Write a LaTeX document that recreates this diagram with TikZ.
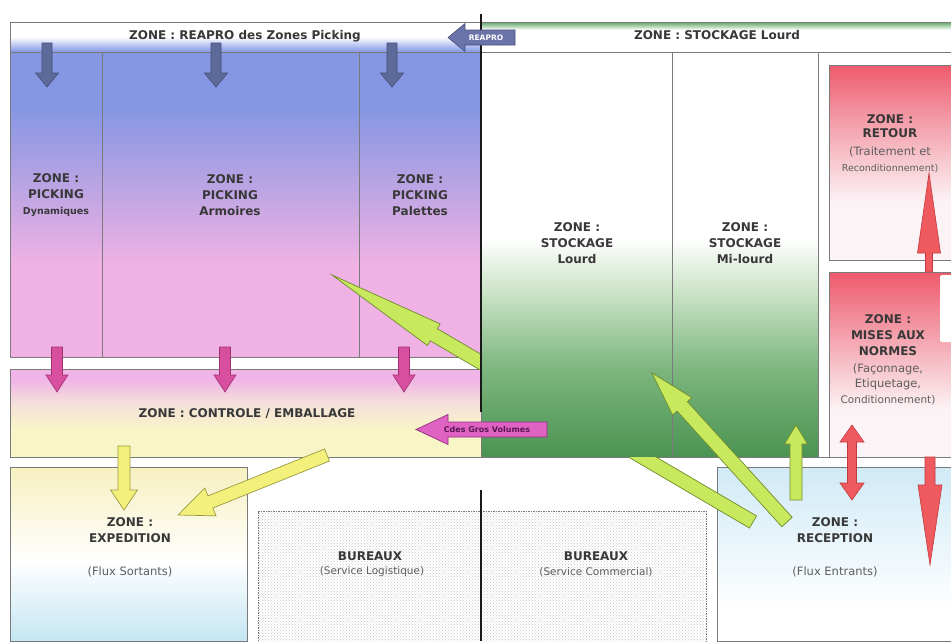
\documentclass[tikz,border=0pt]{standalone}
\usepackage{fontspec}
\setmainfont{DejaVu Sans}
\usetikzlibrary{calc,patterns}
\definecolor{framegray}{HTML}{7A7A7A}
\definecolor{txtdark}{HTML}{383838}
\definecolor{txtgray}{HTML}{5E5E5E}
\definecolor{pkblue}{HTML}{8596E3}
\definecolor{pkpink}{HTML}{F0B2E4}
\definecolor{bandblue}{HTML}{8A9DE8}
\definecolor{bandgreen}{HTML}{5EA563}
\definecolor{stdark}{HTML}{4B9352}
\definecolor{stmid}{HTML}{7DB67F}
\definecolor{stlight}{HTML}{C8E2C4}
\definecolor{ctpink}{HTML}{F0B4E6}
\definecolor{ctmid}{HTML}{F5E2DA}
\definecolor{ctyel}{HTML}{F8F5C6}
\definecolor{exyel}{HTML}{F7F0C0}
\definecolor{excyan}{HTML}{C4E6F2}
\definecolor{rcblue}{HTML}{D0EAF6}
\definecolor{rtred}{HTML}{EE5A6B}
\definecolor{rtpink}{HTML}{F4A0AC}
\definecolor{rtwhite}{HTML}{FBF3F5}
\definecolor{arrgray}{HTML}{5D6B9A}
\definecolor{arrgrayd}{HTML}{454F78}
\definecolor{arrpink}{HTML}{D84FA0}
\definecolor{arrpinkd}{HTML}{A03070}
\definecolor{arrlime}{HTML}{C8E85E}
\definecolor{arrlimed}{HTML}{6E8C2A}
\definecolor{arryel}{HTML}{F4F07C}
\definecolor{arryeld}{HTML}{9A9A40}
\definecolor{arrred}{HTML}{EF5A5E}
\definecolor{arrredd}{HTML}{C03A40}
\definecolor{reaproarr}{HTML}{6B74A8}
\definecolor{reaproarrd}{HTML}{4A5080}
\definecolor{cdesarr}{HTML}{E063C4}
\definecolor{cdesarrd}{HTML}{903080}
\definecolor{cdestxt}{HTML}{5A1850}
\pgfdeclareverticalshading{pickshade}{100bp}{color(0bp)=(pkpink); color(40bp)=(pkpink); color(66bp)=(pkblue); color(100bp)=(pkblue)}
\pgfdeclareverticalshading{reaproband}{100bp}{color(0bp)=(bandblue); color(27bp)=(bandblue); color(50bp)=(white); color(100bp)=(white)}
\pgfdeclareverticalshading{stockband}{100bp}{color(0bp)=(white); color(62bp)=(white); color(75bp)=(bandgreen); color(100bp)=(bandgreen)}
\pgfdeclareverticalshading{stockshade}{100bp}{color(0bp)=(stdark); color(25bp)=(stdark); color(36bp)=(stmid); color(45bp)=(stlight); color(52bp)=(white); color(100bp)=(white)}
\pgfdeclareverticalshading{ctshade}{100bp}{color(0bp)=(ctyel); color(40bp)=(ctyel); color(55bp)=(ctmid); color(69bp)=(ctpink); color(100bp)=(ctpink)}
\pgfdeclareverticalshading{exshade}{100bp}{color(0bp)=(excyan); color(25bp)=(excyan); color(48bp)=(white); color(75bp)=(exyel); color(100bp)=(exyel)}
\pgfdeclareverticalshading{rcshade}{100bp}{color(0bp)=(white); color(34bp)=(white); color(75bp)=(rcblue); color(100bp)=(rcblue)}
\pgfdeclareverticalshading{rtshade}{100bp}{color(0bp)=(rtwhite); color(40bp)=(rtwhite); color(60bp)=(rtpink); color(75bp)=(rtred); color(100bp)=(rtred)}
\pgfdeclareverticalshading{mnshade}{100bp}{color(0bp)=(rtwhite); color(38bp)=(rtwhite); color(58bp)=(rtpink); color(75bp)=(rtred); color(100bp)=(rtred)}
% block arrow: style, from, to, shaft half width, head half width, head length
\newcommand{\blockarrow}[6]{%
  \path ($(#3)!#6pt!(#2)$) coordinate (hb);
  \draw[#1] ($(#2)!#4pt!90:(#3)$) -- ($(hb)!#4pt!90:(#3)$) -- ($(hb)!#5pt!90:(#3)$) -- (#3)
    -- ($(hb)!#5pt!-90:(#3)$) -- ($(hb)!#4pt!-90:(#3)$) -- ($(#2)!#4pt!-90:(#3)$) -- cycle;}
\newcommand{\dblarrow}[6]{%
  \path ($(#3)!#6pt!(#2)$) coordinate (hb) ($(#2)!#6pt!(#3)$) coordinate (ha);
  \draw[#1] (#2) -- ($(ha)!#5pt!90:(#3)$) -- ($(ha)!#4pt!90:(#3)$) -- ($(hb)!#4pt!90:(#3)$)
    -- ($(hb)!#5pt!90:(#3)$) -- (#3) -- ($(hb)!#5pt!-90:(#3)$) -- ($(hb)!#4pt!-90:(#3)$)
    -- ($(ha)!#4pt!-90:(#3)$) -- ($(ha)!#5pt!-90:(#3)$) -- cycle;}
\begin{document}
\begin{tikzpicture}[x=1pt,y=-1pt,
  zone/.style={draw=framegray,line width=0.7pt},
  lbl/.style={text=txtdark,font=\fontsize{12}{16}\selectfont\bfseries,align=center,inner sep=0pt},
  sub/.style={text=txtgray,font=\fontsize{11.5}{15.5}\selectfont,align=center,inner sep=0pt},
  grayarr/.style={fill=arrgray,draw=arrgrayd,line width=0.6pt},
  pinkarr/.style={fill=arrpink,draw=arrpinkd,line width=0.6pt},
  limearr/.style={fill=arrlime,draw=arrlimed,line width=0.7pt},
  yelarr/.style={fill=arryel,draw=arryeld,line width=0.7pt},
  redarr/.style={fill=arrred,draw=arrredd,line width=0.6pt},
  reapro/.style={fill=reaproarr,draw=reaproarrd,line width=0.6pt},
  cdes/.style={fill=cdesarr,draw=cdesarrd,line width=0.7pt},
  wall/.style={draw=black!90,line width=2.6pt}]
\useasboundingbox (0,0) rectangle (951,641);
\fill[white] (0,0) rectangle (951,641);
% coordinates
\coordinate (g1s) at (47,43); \coordinate (g1e) at (47,87);
\coordinate (g2s) at (216,43); \coordinate (g2e) at (216,87);
\coordinate (g3s) at (392,43); \coordinate (g3e) at (392,87);
\coordinate (p1s) at (57,347); \coordinate (p1e) at (57,392);
\coordinate (p2s) at (225,347); \coordinate (p2e) at (225,392);
\coordinate (p3s) at (404,347); \coordinate (p3e) at (404,392);
\coordinate (rpS) at (515,37.5); \coordinate (rpE) at (448,37.5);
\coordinate (cdS) at (547,429.5); \coordinate (cdE) at (416,429.5);
\coordinate (y1s) at (124,446); \coordinate (y1e) at (124,510);
\coordinate (y2s) at (327,455); \coordinate (y2e) at (178,515);
\coordinate (l1s) at (796,500); \coordinate (l1e) at (796,425);
\coordinate (l2s) at (787,522); \coordinate (l2e) at (652,373);
\coordinate (l3s) at (753,522); \coordinate (l3e) at (332,275);
\coordinate (r1s) at (929,272); \coordinate (r1e) at (929,173);
\coordinate (r2s) at (930,457); \coordinate (r2e) at (930,565);
\coordinate (r3s) at (852,425); \coordinate (r3e) at (852,500);
% picking
\path[zone,shading=pickshade] (10,52) rectangle (481,357);
\draw[framegray,line width=0.7pt] (102,52) -- (102,357) (359,52) -- (359,357);
\path[zone,shading=reaproband] (10,22) rectangle (481,52);
\blockarrow{grayarr}{g1s}{g1e}{5}{11.5}{14}
\blockarrow{grayarr}{g2s}{g2e}{5}{11.5}{14}
\blockarrow{grayarr}{g3s}{g3e}{5}{11.5}{14}
% controle
\path[zone,shading=ctshade] (10,369) rectangle (481,457);
\blockarrow{pinkarr}{p1s}{p1e}{5.5}{11}{17}
\blockarrow{pinkarr}{p2s}{p2e}{5.5}{11}{17}
\blockarrow{pinkarr}{p3s}{p3e}{5.5}{11}{17}
% long lime arrow (under stockage)
\begin{scope}
\clip (0,0) rectangle (481,641);
\blockarrow{limearr}{l3s}{l3e}{7}{12.5}{118}
\end{scope}
% stockage
\path[zone,shading=stockband] (481,22) rectangle (951,52);
\path[zone,shading=stockshade] (481,52) rectangle (672,457);
\path[zone,shading=stockshade] (672,52) rectangle (818,457);
\draw[zone,fill=white] (818,52) rectangle (951,457);
\path[zone,shading=rtshade] (829,65) rectangle (951,260);
\path[zone,shading=mnshade] (829,272) rectangle (951,457);
\fill[white,rounded corners=2pt] (940,275) rectangle (953,342);
% walls
\draw[wall] (481,14) -- (481,412);
\draw[wall] (481,490) -- (481,641);
% bottom zones
\path[zone,shading=exshade] (10,467) rectangle (247,641);
\path[zone,shading=rcshade] (717,467) rectangle (951,641);
\fill[white] (258,511) rectangle (706,641);
\fill[pattern=crosshatch dots,pattern color=gray!45] (258,511) rectangle (706,641);
\draw[framegray,line width=0.6pt,dash pattern=on 1.5pt off 1pt] (258,641) -- (258,511) -- (706,511) -- (706,641);
\draw[wall] (481,490) -- (481,641);
% flow arrows
\blockarrow{reapro}{rpS}{rpE}{7.5}{14}{17}
\blockarrow{cdes}{cdS}{cdE}{7.5}{15}{32}
\begin{scope}
\clip (481,457) rectangle (951,641);
\blockarrow{limearr}{l3s}{l3e}{7}{12.5}{118}
\end{scope}
\blockarrow{limearr}{l2s}{l2e}{7}{13}{45}
\blockarrow{limearr}{l1s}{l1e}{6}{11.5}{19}
\blockarrow{yelarr}{y1s}{y1e}{6}{13.5}{20}
\blockarrow{yelarr}{y2s}{y2e}{6.5}{15}{35}
\blockarrow{redarr}{r1s}{r1e}{3.5}{11.5}{80}
\blockarrow{redarr}{r2s}{r2e}{5}{12}{80}
\dblarrow{redarr}{r3s}{r3e}{4.5}{12}{17}
% texts
\node[text=white,font=\fontsize{7.5}{8}\selectfont\bfseries,inner sep=0pt] (tRpA) at (486,37.5) {REAPRO};
\node[text=cdestxt,font=\fontsize{8}{9}\selectfont\bfseries,inner sep=0pt] (tCdes) at (487,429.5) {Cdes Gros Volumes};
\node[lbl] (tReapro) at (245,36) {ZONE : REAPRO des Zones Picking};
\node[lbl] (tStockTop) at (717,35) {ZONE : STOCKAGE Lourd};
\node[lbl] (tDyn) at (56,195) {ZONE :\\PICKING\\{\fontsize{9.5}{16}\selectfont Dynamiques}};
\node[lbl] (tArm) at (230,195) {ZONE :\\PICKING\\Armoires};
\node[lbl] (tPal) at (420,195) {ZONE :\\PICKING\\Palettes};
\node[lbl] (tSL) at (577,243) {ZONE :\\STOCKAGE\\Lourd};
\node[lbl] (tSML) at (745,243) {ZONE :\\STOCKAGE\\Mi-lourd};
\node[lbl,font=\fontsize{12}{14.5}\selectfont\bfseries] (tRet) at (890,126) {ZONE :\\RETOUR};
\node[sub] (tRetS) at (890,160) {(Traitement et\\{\fontsize{9.5}{15}\selectfont Reconditionnement)}};
\node[lbl] (tMis) at (888,335) {ZONE :\\MISES AUX\\NORMES};
\node[sub] (tMisS) at (888,384) {(Façonnage,\\Etiquetage,\\{\fontsize{10.5}{15.5}\selectfont Conditionnement)}};
\node[lbl] (tCtl) at (247,414) {ZONE : CONTROLE / EMBALLAGE};
\node[lbl] (tExp) at (130,530) {ZONE :\\EXPEDITION};
\node[sub] (tExpS) at (130,572) {(Flux Sortants)};
\node[lbl] (tRec) at (835,530) {ZONE :\\RECEPTION};
\node[sub] (tRecS) at (835,572) {(Flux Entrants)};
\node[lbl] (tBur1) at (370,556) {BUREAUX};
\node[sub,font=\fontsize{10.5}{13}\selectfont] (tBur1S) at (372,572) {(Service Logistique)};
\node[lbl] (tBur2) at (596,556) {BUREAUX};
\node[sub,font=\fontsize{10.5}{13}\selectfont] (tBur2S) at (596,572) {(Service Commercial)};
\end{tikzpicture}
\end{document}
